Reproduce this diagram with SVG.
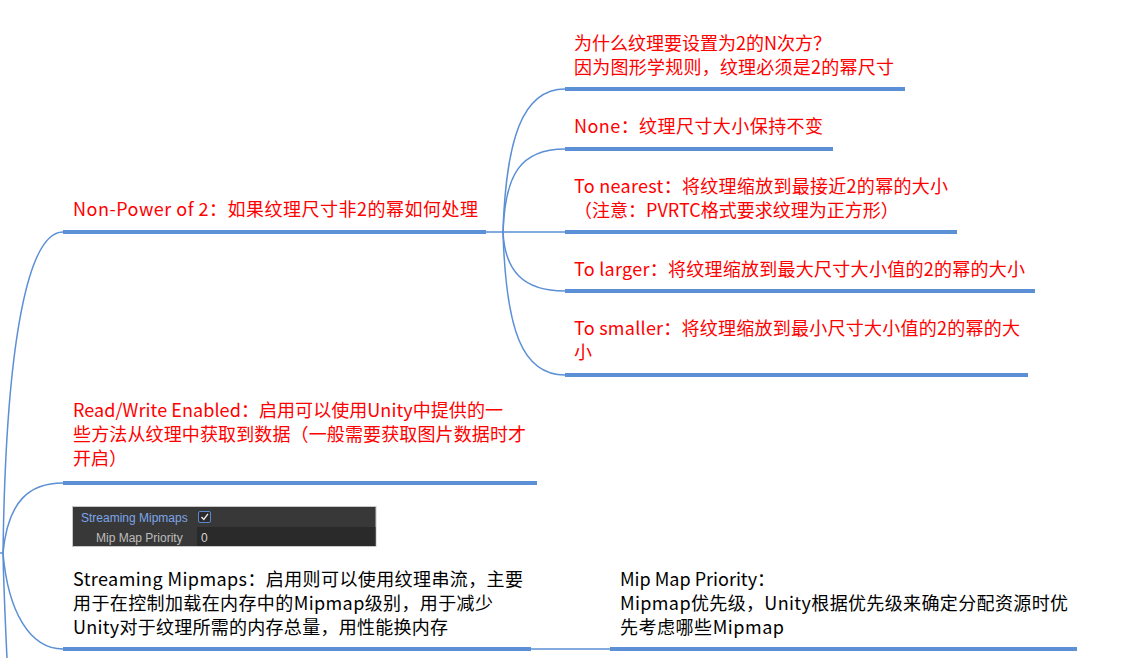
<svg xmlns="http://www.w3.org/2000/svg" width="1146" height="658" viewBox="0 0 1146 658">
<style>
.t{font-family:"Noto Sans CJK SC","Microsoft YaHei",sans-serif;font-size:18px;}
.red{fill:#ff0000;}
.blk{fill:#000000;}
.bar{stroke:#5b8fd6;stroke-width:4;fill:none;}
.ln{stroke:#5b8fd6;stroke-width:1.5;fill:none;}
.ui{font-family:"Liberation Sans","DejaVu Sans",sans-serif;font-size:12px;}
</style>
<rect x="0" y="0" width="1146" height="658" fill="#ffffff"/>
<g id="connectors">
<line class="ln" x1="-5" y1="553" x2="3" y2="553"/>
<path class="ln" d="M3,553 C6,330 30,232 63,232"/>
<path class="ln" d="M3,553 C8,500 30,483 63,483"/>
<path class="ln" d="M3,553 C8,612 30,649 63,649"/>
<path class="ln" d="M3,553 C4,600 6,640 9,700"/>
<line class="ln" x1="486" y1="232" x2="565" y2="232"/>
<path class="ln" d="M503,232 C506,140 522,89 565,89"/>
<path class="ln" d="M503,232 C505,175 520,149 565,149"/>
<path class="ln" d="M503,232 C505,270 522,291 565,291"/>
<path class="ln" d="M503,232 C506,330 522,375 565,375"/>
<line class="ln" x1="531" y1="649" x2="610" y2="649"/>
</g>
<g id="node-nonpower">
<line class="bar" x1="63" y1="232" x2="486" y2="232"/>
<text class="t red" x="73" y="216" textLength="405">Non-Power of 2：如果纹理尺寸非2的幂如何处理</text>
</g>
<g id="node-why">
<line class="bar" x1="565" y1="89" x2="905" y2="89"/>
<text class="t red" x="574" y="50">为什么纹理要设置为2的N次方？</text>
<text class="t red" x="574" y="74" textLength="320">因为图形学规则，纹理必须是2的幂尺寸</text>
</g>
<g id="node-none">
<line class="bar" x1="565" y1="149" x2="833" y2="149"/>
<text class="t red" x="574" y="133" textLength="249">None：纹理尺寸大小保持不变</text>
</g>
<g id="node-nearest">
<line class="bar" x1="565" y1="232" x2="957" y2="232"/>
<text class="t red" x="574" y="193" textLength="374">To nearest：将纹理缩放到最接近2的幂的大小</text>
<text class="t red" x="574" y="217">（注意：PVRTC格式要求纹理为正方形）</text>
</g>
<g id="node-larger">
<line class="bar" x1="565" y1="291" x2="1035" y2="291"/>
<text class="t red" x="574" y="276" textLength="451">To larger：将纹理缩放到最大尺寸大小值的2的幂的大小</text>
</g>
<g id="node-smaller">
<line class="bar" x1="565" y1="375" x2="1028" y2="375"/>
<text class="t red" x="574" y="335" textLength="446">To smaller：将纹理缩放到最小尺寸大小值的2的幂的大</text>
<text class="t red" x="574" y="359">小</text>
</g>
<g id="node-readwrite">
<line class="bar" x1="63" y1="483" x2="537" y2="483"/>
<text class="t red" x="73" y="417" textLength="430">Read/Write Enabled：启用可以使用Unity中提供的一</text>
<text class="t red" x="73" y="441" textLength="453">些方法从纹理中获取到数据（一般需要获取图片数据时才</text>
<text class="t red" x="73" y="465">开启）</text>
</g>
<g id="node-streaming">
<rect x="72.5" y="506.5" width="303.5" height="40" fill="#383838" stroke="#c8c8c8" stroke-width="1"/>
<rect x="197" y="527" width="178.5" height="19" fill="#2a2a2a"/>
<text class="ui" x="81" y="522" fill="#7ba6e8">Streaming Mipmaps</text>
<rect x="198.5" y="511.5" width="12" height="11" rx="1.5" fill="#2b2b2b" stroke="#5b87cc" stroke-width="1"/>
<path d="M201.5,517 L203.8,519.5 L208,513.8" fill="none" stroke="#e8e8e8" stroke-width="1.4"/>
<text class="ui" x="96" y="542" fill="#bdbdbd">Mip Map Priority</text>
<text class="ui" x="201" y="542" fill="#d4d4d4">0</text>
<line class="bar" x1="63" y1="649" x2="531" y2="649"/>
<text class="t blk" x="73" y="586" textLength="450">Streaming Mipmaps：启用则可以使用纹理串流，主要</text>
<text class="t blk" x="73" y="610" textLength="420">用于在控制加载在内存中的Mipmap级别，用于减少</text>
<text class="t blk" x="73" y="634" textLength="375">Unity对于纹理所需的内存总量，用性能换内存</text>
</g>
<g id="node-mippriority">
<line class="bar" x1="610" y1="649" x2="1077" y2="649"/>
<text class="t blk" x="620" y="586">Mip Map Priority：</text>
<text class="t blk" x="620" y="610" textLength="448">Mipmap优先级，Unity根据优先级来确定分配资源时优</text>
<text class="t blk" x="620" y="634" textLength="164">先考虑哪些Mipmap</text>
</g>
</svg>
